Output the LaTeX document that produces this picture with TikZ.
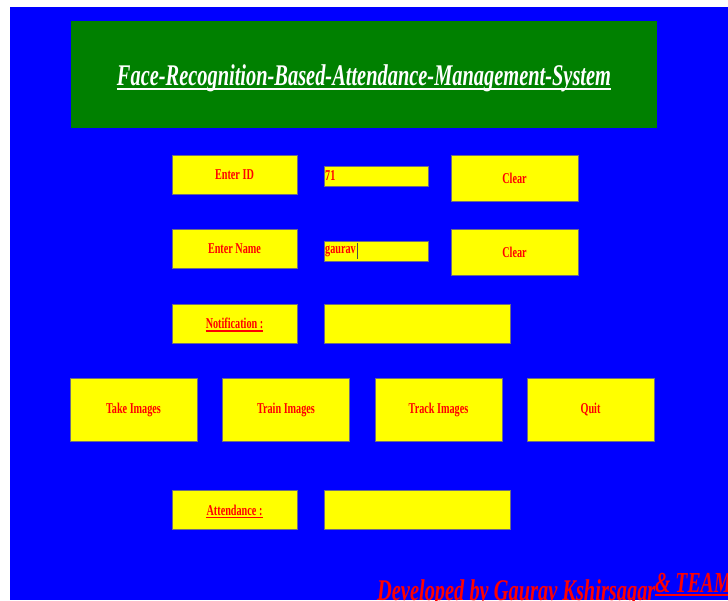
\documentclass[tikz,border=0pt]{standalone}
\usepackage{fontspec}
\setmainfont{Liberation Serif}[FakeStretch=0.68]
\definecolor{winblue}{RGB}{0,0,255}
\definecolor{wingreen}{RGB}{0,128,0}
\definecolor{winyellow}{RGB}{255,255,0}
\definecolor{winred}{RGB}{255,0,0}
\definecolor{edgegray}{RGB}{110,110,130}
\begin{document}
\begin{tikzpicture}[x=1pt,y=-1pt,
  guibox/.style={draw=edgegray, line width=1pt, fill=winyellow, inner sep=0pt,
    text=winred, font=\fontsize{15}{17}\selectfont\bfseries},
  lbl/.style={guibox, minimum width=125pt, minimum height=39pt},
  entrybox/.style={guibox, minimum width=104pt, minimum height=20pt},
  clrbtn/.style={guibox, minimum width=127pt, minimum height=46pt},
  msgbox/.style={guibox, minimum width=186pt, minimum height=39pt},
  bigbtn/.style={guibox, minimum width=127pt, minimum height=63pt},
  plain/.style={inner sep=0pt, text=winred, font=\fontsize{15}{17}\selectfont\bfseries}]
\useasboundingbox (0,0) rectangle (728,600);
\clip (0,0) rectangle (728,600);
\fill[white] (0,0) rectangle (728,600);
\fill[winblue] (10,7) rectangle (728,600);
% title
\node[fill=wingreen, minimum width=586pt, minimum height=107pt, inner sep=0pt] (head) at (364,74.5){};
\node[inner sep=0pt, anchor=base, text=white, font=\fontsize{30}{34}\selectfont\bfseries\itshape] (ttl) at (364,85){Face-Recognition-Based-Attendance-Management-System};
\draw[white, line width=1.5pt] ([yshift=-4pt]ttl.base west) -- ([yshift=-4pt]ttl.base east);
% id and name rows
\node[lbl] (lblid) at (234.5,174.5){Enter ID};
\node[entrybox] (txtid) at (376,176){};
\node[plain, anchor=west] (valid) at ([xshift=1.5pt]txtid.west){71};
\node[clrbtn] (clrid) at (514.5,178){Clear};
\node[lbl] (lblname) at (234.5,248.5){Enter Name};
\node[entrybox] (txtname) at (376,251){};
\node[plain, anchor=west] (valname) at ([xshift=1.5pt]txtname.west){gaurav};
\draw[black!70, line width=1pt] ([xshift=1pt,yshift=8pt]valname.east) -- ([xshift=1pt,yshift=-8pt]valname.east);
\node[clrbtn] (clrname) at (514.5,252){Clear};
% notification
\node[lbl] (lblnote) at (234.5,323.5){};
\node[plain] (notetxt) at (lblnote){Notification :};
\draw[winred, line width=1.5pt] ([yshift=-2.5pt]notetxt.base west) -- ([yshift=-2.5pt]notetxt.base east);
\node[msgbox] (msgnote) at (417,323.5){};
% buttons
\node[bigbtn] (take) at (133.5,410){Take Images};
\node[bigbtn] (train) at (286,410){Train Images};
\node[bigbtn] (track) at (438.5,410){Track Images};
\node[bigbtn] (quit) at (590.5,410){Quit};
% attendance
\node[lbl] (lblatt) at (234.5,510){};
\node[plain] (atttxt) at (lblatt){Attendance :};
\draw[winred, line width=1.5pt] ([yshift=-2.5pt]atttxt.base west) -- ([yshift=-2.5pt]atttxt.base east);
\node[msgbox] (msgatt) at (417,510){};
% footer
\node[inner sep=0pt, anchor=base west, text=winred, font=\fontsize{30}{34}\selectfont\bfseries\itshape] (credit) at (377,600.5){Developed by Gaurav Kshirsagar};
\node[inner sep=0pt, anchor=base west, text=winred, font=\fontsize{29}{33}\selectfont\bfseries\itshape] (team) at (655,592){\& TEAM};
\draw[winred, line width=2pt] ([yshift=-3pt]team.base west) -- ([yshift=-3pt]team.base east);
\end{tikzpicture}
\end{document}
